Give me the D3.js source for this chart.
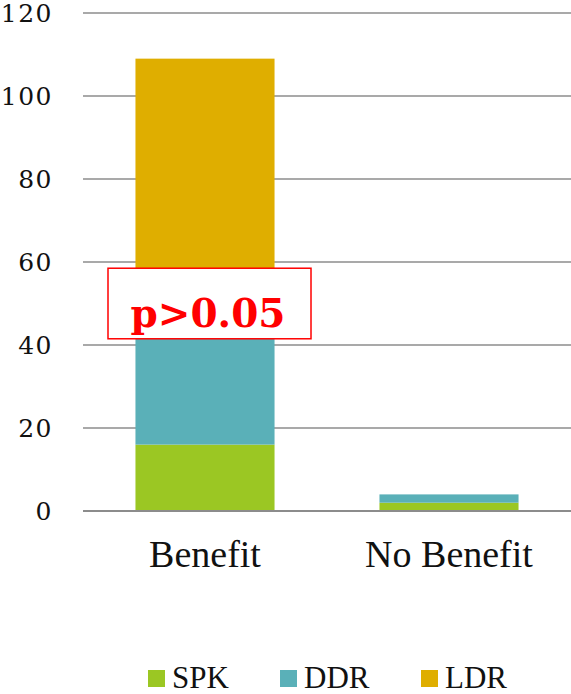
<!DOCTYPE html>
<html>
<head>
<meta charset="utf-8">
<script src="https://cdn.jsdelivr.net/npm/d3@7"></script>
<style>
  body { margin: 0; background: #fff; }
  svg { display: block; font-family: "Liberation Serif", "DejaVu Serif", serif; }
</style>
</head>
<body>
<div id="chart"></div>
<script>
const categories = ["Benefit", "No Benefit"];
const seriesNames = ["SPK", "DDR", "LDR"];
const spk = [16, 2];
const ddr = [27, 2];
const ldr = [66, 0];
const yTicks = [0, 20, 40, 60, 80, 100, 120];
const colors = ["#9bc723", "#5ab0b8", "#dfae00"];

const width = 571, height = 694;
const margin = { top: 13, right: 0, bottom: 183, left: 83 };
const innerW = width - margin.left - margin.right;
const innerH = height - margin.top - margin.bottom;

const svg = d3.select("#chart").append("svg")
    .attr("width", width)
    .attr("height", height);

const g = svg.append("g")
    .attr("transform", `translate(${margin.left},${margin.top})`);

const x = d3.scaleBand().domain(categories).range([0, innerW])
    .paddingInner(0.43).paddingOuter(0.215);
const y = d3.scaleLinear().domain([0, 120]).range([innerH, 0]);

// gridlines
g.selectAll("line.grid")
    .data(yTicks)
    .join("line")
    .attr("class", "grid")
    .attr("x1", 0).attr("x2", innerW)
    .attr("y1", d => y(d)).attr("y2", d => y(d))
    .attr("stroke", "#8c8c8c")
    .attr("stroke-width", d => d === 0 ? 2 : 1.3);

// y tick labels
g.selectAll("text.ytick")
    .data(yTicks)
    .join("text")
    .attr("class", "ytick")
    .attr("x", -30)
    .attr("y", d => y(d))
    .attr("dy", "0.35em")
    .attr("text-anchor", "end")
    .style("font-family", "'DejaVu Serif', serif")
    .style("font-size", "25px")
    .style("letter-spacing", "1.5px")
    .attr("fill", "#111")
    .text(d => d);

// stacked data
const rows = categories.map((c, i) => ({ cat: c, SPK: spk[i], DDR: ddr[i], LDR: ldr[i] }));
const stack = d3.stack().keys(seriesNames)(rows);

g.selectAll("g.series")
    .data(stack)
    .join("g")
    .attr("class", "series")
    .attr("fill", (d, i) => colors[i])
    .selectAll("rect")
    .data(d => d)
    .join("rect")
    .attr("x", d => x(d.data.cat))
    .attr("width", x.bandwidth())
    .attr("y", d => y(d[1]))
    .attr("height", d => y(d[0]) - y(d[1]));

// redraw baseline on top
g.append("line")
    .attr("x1", 0).attr("x2", innerW)
    .attr("y1", y(0)).attr("y2", y(0))
    .attr("stroke", "#8c8c8c")
    .attr("stroke-width", 2);

// x labels
g.selectAll("text.xlab")
    .data(categories)
    .join("text")
    .attr("class", "xlab")
    .attr("x", d => x(d) + x.bandwidth() / 2)
    .attr("y", y(0) + 56)
    .attr("text-anchor", "middle")
    .attr("font-size", 38)
    .attr("fill", "#111")
    .text(d => d);

// p-value annotation
const bx = x("Benefit") + x.bandwidth() / 2;
const ann = g.append("g");
ann.append("rect")
    .attr("x", bx - 97)
    .attr("y", y(58.5))
    .attr("width", 203)
    .attr("height", y(41.5) - y(58.5))
    .attr("fill", "#fff")
    .attr("stroke", "#ff0000")
    .attr("stroke-width", 1.5);
ann.append("text")
    .attr("x", bx + 3)
    .attr("y", y(44.3))
    .attr("text-anchor", "middle")
    .style("font-family", "'DejaVu Serif', serif")
    .style("font-size", "39px")
    .style("font-weight", "bold")
    .attr("fill", "#ff0000")
    .text("p>0.05");

// legend
const legendX = [148, 280, 421];
const legend = svg.append("g");
const items = legend.selectAll("g")
    .data(seriesNames)
    .join("g")
    .attr("transform", (d, i) => `translate(${legendX[i]}, 670)`);
items.append("rect")
    .attr("width", 17).attr("height", 17)
    .attr("fill", (d, i) => colors[i]);
items.append("text")
    .attr("x", 24)
    .attr("y", 18)
    .attr("font-size", 31)
    .attr("fill", "#111")
    .text(d => d);
</script>
</body>
</html>
